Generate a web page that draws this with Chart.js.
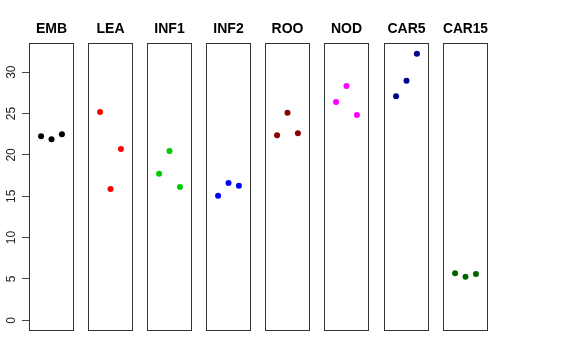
<!DOCTYPE html>
<html><head><meta charset="utf-8">
<script src="https://cdn.jsdelivr.net/npm/chart.js@4/dist/chart.umd.min.js"></script>
<style>
html,body{margin:0;padding:0;background:#fff;width:576px;height:360px;overflow:hidden}
#wrap{position:relative;width:576px;height:360px}
#wrap canvas{position:absolute;top:0}
</style></head><body><div id="wrap"></div>
<script>
const groups = ['EMB','LEA','INF1','INF2','ROO','NOD','CAR5','CAR15'];
const EMB   = [22.25, 21.9, 22.5];
const LEA   = [25.19, 15.88, 20.71];
const INF1  = [17.73, 20.47, 16.12];
const INF2  = [15.07, 16.60, 16.28];
const ROO   = [22.37, 25.11, 22.61];
const NOD   = [26.40, 28.33, 24.82];
const CAR5  = [27.09, 28.97, 32.24];
const CAR15 = [5.68, 5.27, 5.60];
const series = [EMB, LEA, INF1, INF2, ROO, NOD, CAR5, CAR15];
const colors = ['#000000','#FF0000','#00CD00','#0000FF','#8B0000','#FF00FF','#00008B','#006400'];
const yTicks = [0,5,10,15,20,25,30];
const yMin = -1.29, yMax = 33.53;
const xMin = -0.16, xMax = 4.16;

const panelLeft = [29, 88, 147, 206, 265, 324, 384, 443];
const panelW = 45;
const axisW = 29;
const side = 8; // extra canvas width each side so titles are not squeezed

const boxPlugin = {
  id: 'box',
  afterDraw(c) {
    const a = c.chartArea, ctx = c.ctx;
    ctx.save();
    ctx.strokeStyle = '#333';
    ctx.lineWidth = 1;
    ctx.strokeRect(a.left + 0.5, a.top + 0.5, a.right - a.left - 1, a.bottom - a.top - 1);
    ctx.restore();
  }
};

const wrap = document.getElementById('wrap');
series.forEach((vals, i) => {
  const cv = document.createElement('canvas');
  const first = i === 0;
  const w = first ? axisW + panelW + 1 : panelW + 2 * side;
  const left = first ? 0 : panelLeft[i] - side;
  cv.width = w; cv.height = 360;
  cv.style.left = left + 'px';
  cv.style.width = w + 'px'; cv.style.height = '360px';
  wrap.appendChild(cv);
  const yScale = {
    type: 'linear', min: yMin, max: yMax,
    display: first,
    afterBuildTicks: s => { s.ticks = yTicks.map(v => ({value: v})); },
    border: {display: false},
    grid: {drawOnChartArea: false, drawTicks: true, tickLength: 7, tickColor: '#444', lineWidth: 1},
    ticks: {
      minRotation: 90, maxRotation: 90,
      crossAlign: 'center',
      padding: 4,
      color: '#222',
      font: {family: 'Liberation Sans', size: 12},
      includeBounds: false
    }
  };
  if (first) yScale.afterFit = s => { s.width = axisW; };
  new Chart(cv, {
    type: 'scatter',
    data: {
      datasets: [{
        data: vals.map((v, k) => ({x: k + 1, y: v})),
        backgroundColor: colors[i],
        borderColor: colors[i],
        pointRadius: 3,
        borderWidth: 0
      }]
    },
    options: {
      responsive: false,
      animation: false,
      devicePixelRatio: 1,
      layout: {
        autoPadding: false,
        padding: {left: first ? 0 : side, right: first ? 1 : side, top: 0, bottom: 29}
      },
      plugins: {
        legend: {display: false},
        tooltip: {enabled: false},
        title: {
          display: true,
          text: groups[i],
          fullSize: !first,
          color: '#000',
          font: {family: 'Liberation Sans', size: 14, weight: 'bold', lineHeight: 1.2},
          padding: {top: 20.6, bottom: 5.6}
        }
      },
      scales: {
        x: {type: 'linear', min: xMin, max: xMax, display: false},
        y: yScale
      }
    },
    plugins: [boxPlugin]
  });
});
</script></body></html>
